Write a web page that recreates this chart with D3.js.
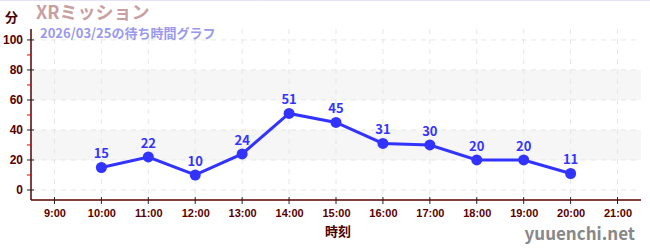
<!DOCTYPE html>
<html>
<head>
<meta charset="utf-8">
<script src="https://cdn.jsdelivr.net/npm/d3@7"></script>
<style>
  body { margin: 0; background: #fff; }
  svg { display: block; font-family: "Noto Sans CJK JP", "Noto Sans", sans-serif; }
</style>
</head>
<body>
<div id="main"></div>
<script>
// data
const hours = [10, 11, 12, 13, 14, 15, 16, 17, 18, 19, 20];
const waits = [15, 22, 10, 24, 51, 45, 31, 30, 20, 20, 11];
const xTicks = [9, 10, 11, 12, 13, 14, 15, 16, 17, 18, 19, 20, 21];
const yTicks = [0, 20, 40, 60, 80, 100];
const yMinor = [10, 30, 50, 70, 90];
const bands = [[20, 40], [60, 80]];

const W = 650, H = 250;
const svg = d3.select("#main").append("svg")
  .attr("width", W).attr("height", H);

const x = d3.scaleLinear().domain([8.5, 21.5]).range([31, 641]);
const y = d3.scaleLinear().domain([-6.67, 107.3]).range([200, 29]);

// top border
svg.append("line").attr("x1", 0).attr("x2", W).attr("y1", 0.5).attr("y2", 0.5)
  .attr("stroke", "#e4e4f8");

const g = svg.append("g");

// bands
g.selectAll("rect.band").data(bands).join("rect")
  .attr("class", "band")
  .attr("x", x.range()[0]).attr("width", x.range()[1] - x.range()[0])
  .attr("y", d => y(d[1])).attr("height", d => y(d[0]) - y(d[1]))
  .attr("fill", "#f6f6f6");

// grid
g.selectAll("line.hg").data(yTicks).join("line")
  .attr("x1", x.range()[0]).attr("x2", x.range()[1])
  .attr("y1", d => y(d)).attr("y2", d => y(d))
  .attr("stroke", "#e6e6e6").attr("stroke-dasharray", "5,5");
g.selectAll("line.vg").data(xTicks).join("line")
  .attr("x1", d => x(d)).attr("x2", d => x(d))
  .attr("y1", y.range()[1]).attr("y2", y.range()[0])
  .attr("stroke", "#e6e6e6").attr("stroke-dasharray", "5,5");

const axisColor = "#5a0000";

// y axis
const yAxis = g.append("g").attr("transform", `translate(${x.range()[0]},0)`)
  .call(d3.axisLeft(y).tickValues(yTicks).tickSize(0).tickPadding(8))
  .call(a => a.select(".domain").attr("stroke", axisColor).attr("stroke-width", 1.5)
    .attr("d", `M0,${y.range()[1]}V${y.range()[0]}`))
  .call(a => a.selectAll("text").attr("fill", axisColor).attr("font-size", 12).attr("font-weight", "bold"));
yAxis.selectAll("line.maj").data(yTicks).join("line")
  .attr("x1", -4).attr("x2", 3).attr("y1", d => y(d)).attr("y2", d => y(d))
  .attr("stroke", "#222");
yAxis.selectAll("line.min").data(yMinor).join("line")
  .attr("x1", -4).attr("x2", 0).attr("y1", d => y(d)).attr("y2", d => y(d))
  .attr("stroke", "#d00");

// x axis
const xAxis = g.append("g").attr("transform", `translate(0,${y.range()[0]})`)
  .call(d3.axisBottom(x).tickValues(xTicks).tickFormat(d => d + ":00").tickSize(0).tickPadding(9))
  .call(a => a.select(".domain").attr("stroke", axisColor).attr("stroke-width", 1.5)
    .attr("d", `M${x.range()[0]},0H${x.range()[1]}`))
  .call(a => a.selectAll("text").attr("fill", axisColor).attr("font-size", 11).attr("font-weight", "bold"));
xAxis.selectAll("line.tk").data(xTicks).join("line")
  .attr("x1", d => x(d)).attr("x2", d => x(d)).attr("y1", -3).attr("y2", 4)
  .attr("stroke", "#222");

// line + points
const pts = hours.map((h, i) => ({h, v: waits[i]}));
const blue = "#3333ff";
g.append("path").datum(pts)
  .attr("fill", "none").attr("stroke", blue).attr("stroke-width", 3)
  .attr("d", d3.line().x(d => x(d.h)).y(d => y(d.v)));
g.selectAll("circle").data(pts).join("circle")
  .attr("cx", d => x(d.h)).attr("cy", d => y(d.v)).attr("r", 5.5)
  .attr("fill", blue);
g.selectAll("text.lbl").data(pts).join("text")
  .attr("class", "lbl")
  .attr("x", d => x(d.h)).attr("y", d => y(d.v) - 9)
  .attr("text-anchor", "middle").attr("fill", blue)
  .attr("font-size", 13).attr("font-weight", "bold")
  .text(d => d.v);

// titles
svg.append("text").attr("x", 5).attr("y", 22).attr("fill", "#4a0000")
  .attr("font-size", 13).attr("font-weight", "bold").text("分");
svg.append("text").attr("x", 36).attr("y", 19).attr("fill", "#c9a0a0")
  .attr("font-size", 18).attr("font-weight", "bold").text("XRミッション");
svg.append("text").attr("x", 40).attr("y", 37.5).attr("fill", "#9999ee")
  .attr("font-size", 13).attr("font-weight", "bold").text("2026/03/25の待ち時間グラフ");
svg.append("text").attr("x", 338).attr("y", 236).attr("fill", "#4a0000")
  .attr("text-anchor", "middle")
  .attr("font-size", 13).attr("font-weight", "bold").text("時刻");
svg.append("text").attr("x", 635).attr("y", 240).attr("fill", "#888")
  .attr("text-anchor", "end")
  .attr("font-size", 17).attr("font-weight", "bold").text("yuuenchi.net");
</script>
</body>
</html>
